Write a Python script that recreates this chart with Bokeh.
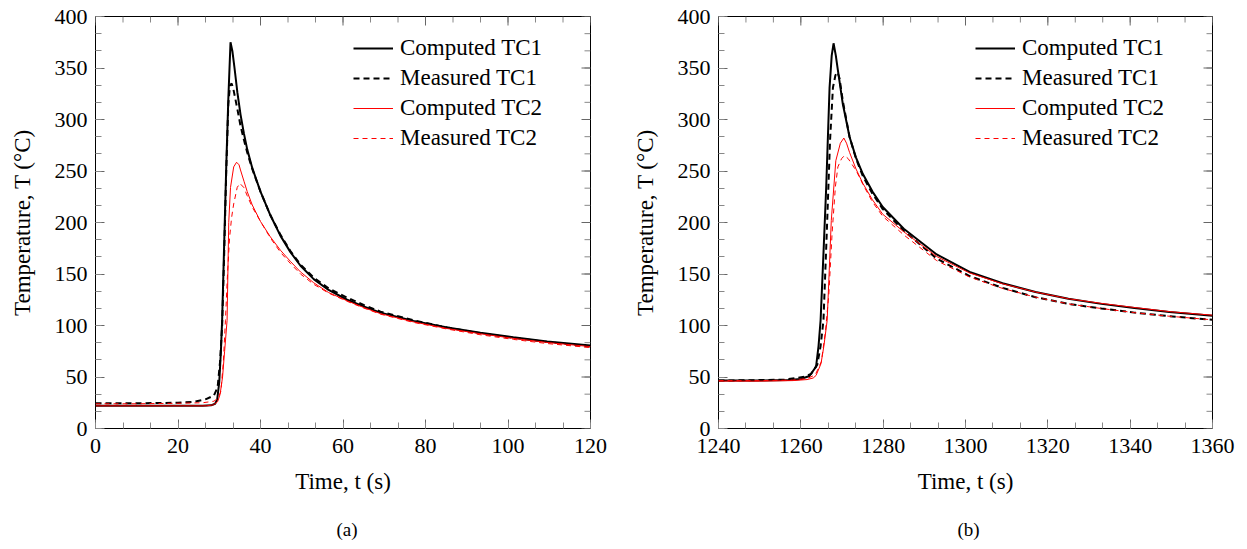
import math
import numpy as np
from bokeh.plotting import figure
from bokeh.models import Range1d, SingleIntervalTicker, Title
from bokeh.layouts import row
from bokeh.embed import file_html
from bokeh.resources import INLINE

FONT = "Liberation Serif"

# ---------------- panel (a) ----------------
a_comp1_t = [0, 10, 20, 26, 28, 29, 29.5, 30, 30.4, 30.7, 31.2, 31.7, 32.2, 32.73, 33.2, 33.7, 34.4, 35.15,
             36.0, 36.78, 38.0, 40.0, 42.4, 44.85, 47.3, 49.7, 52.9, 56.5, 61.0, 65, 69.1, 77.1, 85.3, 93.3,
             101.3, 109.5, 120]
a_comp1_T = [22, 22, 22, 22, 22.5, 24, 28, 45, 75, 105, 180, 255, 320, 375, 366, 350, 326, 305,
             286, 271, 253, 230, 207, 187, 171, 158, 145, 134.5, 125, 118.5, 112.5, 104.5, 98, 93,
             88.5, 84.5, 80.5]

a_meas1_t = [0, 10, 20, 24, 26.8, 28.7, 29.6, 30.2, 30.7, 31.2, 31.7, 32.2, 32.6, 33.0, 33.4, 33.9, 34.4,
             35.15, 36.0, 36.78, 38.0, 40.0, 42.4, 44.85, 47.3, 49.7, 52.9, 56.5, 61, 65, 69.1, 77.1, 85.3,
             93.3, 101.3, 109.5, 120]
a_meas1_T = [24.5, 24.5, 25, 26, 28.5, 32, 40, 65, 100, 170, 250, 315, 333, 335, 330, 320, 310,
             294, 280, 268, 252, 230, 207, 188, 172, 159, 146.5, 136, 127, 120, 113.5, 105, 98,
             92.5, 88, 84, 79.5]

a_comp2_t = [0, 10, 20, 27, 28.6, 29.6, 30.2, 30.8, 31.3, 31.9, 32.3, 32.73, 33.5, 34.2, 34.8, 35.15, 36.0,
             36.78, 38.0, 40.0, 42.4, 44.85, 47.3, 49.7, 52.9, 56.5, 61, 65, 69.1, 77.1, 85.3, 93.3, 101.3,
             109.5, 120]
a_comp2_T = [22, 22, 22, 22, 23, 26, 33, 50, 75, 105, 200, 234, 254, 258.5, 256, 251, 240,
             230, 217, 201, 186, 173, 162, 152, 141.5, 132, 124, 117.5, 111.5, 103.5, 97, 92, 87.5,
             83.5, 79.5]

a_meas2_t = [0, 10, 20, 26, 28.7, 29.6, 30.4, 31.0, 31.5, 32.0, 32.5, 33.0, 33.5, 34.35, 35.0, 35.95, 36.78,
             38.0, 40.0, 42.4, 44.85, 47.3, 49.7, 52.9, 56.5, 61, 65, 69.1, 77.1, 85.3, 93.3, 101.3, 109.5, 120]
a_meas2_T = [24, 24, 24.5, 25, 26.5, 29, 36, 65, 105, 150, 185, 205, 218, 234, 238, 234, 226,
             215, 201, 185, 171, 160, 150, 140, 131.5, 123.5, 117, 111, 103, 96.5, 91, 86.5, 82.5, 78.5]

# ---------------- panel (b) ----------------
b_comp1_t = [1240, 1250, 1257, 1260, 1262.1, 1263.7, 1264.3, 1264.8, 1265.5, 1266.16, 1266.98, 1267.5, 1267.95,
             1268.5, 1269.0, 1270.2, 1271.84, 1273.4, 1275.07, 1277.4, 1279.9, 1285, 1293, 1301, 1309,
             1317, 1325, 1333, 1341, 1349.5, 1360]
b_comp1_T = [46.5, 46.5, 47, 48, 51, 60, 80, 105, 170, 234, 331, 362, 374,
             362, 348, 315, 283, 263, 247, 230, 215, 194, 169, 152, 141,
             132.5, 126, 121, 117, 113, 109.5]

b_meas1_t = [1240, 1250, 1256, 1259, 1261, 1262.5, 1264, 1264.8, 1265.5, 1266.3, 1267.1, 1267.8, 1268.4, 1268.9,
             1269.4, 1270.2, 1271.84, 1273.4, 1275.07, 1277.4, 1279.9, 1285, 1293, 1301, 1309,
             1317, 1325, 1333, 1341, 1349.5, 1360]
b_meas1_T = [46.5, 47, 47.5, 49, 50.5, 53, 62, 80, 105, 190, 280, 331, 343, 346,
             340, 318, 283, 262, 245, 228, 213, 192, 165, 148, 136.5,
             127.5, 121, 116.5, 112.5, 109, 105.5]

b_comp2_t = [1240, 1250, 1258, 1261.5, 1263, 1263.7, 1264.9, 1265.6, 1266.4, 1267.4, 1268.5, 1269.6, 1270.45,
             1271.1, 1271.84, 1273.4, 1275.07, 1277.4, 1279.9, 1285, 1293, 1301, 1309,
             1317, 1325, 1333, 1341, 1349.5, 1360]
b_comp2_T = [46, 46, 46.5, 47.5, 49, 51.5, 63, 80, 105, 202, 260, 277, 282,
             277, 268, 252, 238, 222, 208, 191, 167, 151, 140.5,
             132.5, 126, 121.5, 117.5, 113.5, 110]

b_meas2_t = [1240, 1250, 1258, 1261.5, 1263.5, 1265, 1266, 1266.8, 1267.6, 1268.4, 1269.0, 1269.9, 1270.6,
             1271.5, 1273.5, 1275.07, 1277.4, 1279.9, 1285, 1293, 1301, 1309,
             1317, 1325, 1333, 1341, 1349.5, 1360]
b_meas2_T = [46.5, 46.5, 47, 48.5, 52, 65, 95, 130, 190, 235, 254, 262, 265,
             262, 250, 237, 220, 206, 188, 163, 147, 136,
             127.5, 121, 116.5, 112.5, 109, 105.5]

labels = ["Computed TC1", "Measured TC1", "Computed TC2", "Measured TC2"]
x_label = "Time, t (s)"
y_label = "Temperature, T (°C)"
y_lim = (0, 400)
x_major, y_major = 20, 50
minor_div = 3

MAJ_LEN, MIN_LEN = 9, 6
MAJ_COL, MIN_COL = "#666666", "#888888"


def style_axis(ax):
    ax.axis_line_color = None
    ax.major_tick_in = MAJ_LEN
    ax.major_tick_out = 0
    ax.minor_tick_in = MIN_LEN
    ax.minor_tick_out = 0
    ax.major_tick_line_color = MAJ_COL
    ax.minor_tick_line_color = MIN_COL
    ax.major_tick_line_width = 1
    ax.minor_tick_line_width = 1
    ax.major_label_text_font = FONT
    ax.major_label_text_font_size = "22px"
    ax.major_label_text_color = "black"
    ax.axis_label_text_font = FONT
    ax.axis_label_text_font_size = "23px"
    ax.axis_label_text_font_style = "normal"
    ax.axis_label_text_color = "black"


def mirror_ticks(p, xr):
    # ticks on the top and right frame edges (mirrored from the axes)
    xmaj = np.arange(xr[0], xr[1] + 1e-9, x_major)
    xmin = np.arange(xr[0], xr[1] + 1e-9, x_major / minor_div)
    ymaj = np.arange(y_lim[0], y_lim[1] + 1e-9, y_major)
    ymin = np.arange(y_lim[0], y_lim[1] + 1e-9, y_major / minor_div)
    p.ray(x=list(xmin), y=[y_lim[1]] * len(xmin), length=MIN_LEN, length_units="screen",
          angle=-math.pi / 2, line_color=MIN_COL, line_width=1)
    p.ray(x=list(xmaj), y=[y_lim[1]] * len(xmaj), length=MAJ_LEN, length_units="screen",
          angle=-math.pi / 2, line_color=MAJ_COL, line_width=1)
    p.ray(x=[xr[1]] * len(ymin), y=list(ymin), length=MIN_LEN, length_units="screen",
          angle=math.pi, line_color=MIN_COL, line_width=1)
    p.ray(x=[xr[1]] * len(ymaj), y=list(ymaj), length=MAJ_LEN, length_units="screen",
          angle=math.pi, line_color=MAJ_COL, line_width=1)


def make_panel(xr, series, fw, left, right, caption, cap_off, leg_x):
    p = figure(frame_width=fw, frame_height=412, x_range=Range1d(*xr), y_range=Range1d(*y_lim),
               output_backend="svg", toolbar_location=None,
               min_border_left=left, min_border_right=right, min_border_top=16, min_border_bottom=100)
    p.xgrid.visible = False
    p.ygrid.visible = False
    p.outline_line_color = "black"
    p.outline_line_width = 1
    p.background_fill_color = "white"
    p.border_fill_color = "white"

    p.xaxis.ticker = SingleIntervalTicker(interval=x_major, num_minor_ticks=minor_div)
    p.yaxis.ticker = SingleIntervalTicker(interval=y_major, num_minor_ticks=minor_div)
    for ax in p.xaxis:
        style_axis(ax)
        ax.major_label_standoff = 10
        ax.axis_label = x_label
        ax.axis_label_standoff = 13
    for ax in p.yaxis:
        style_axis(ax)
        ax.major_label_standoff = 8
        ax.axis_label = y_label
        ax.axis_label_standoff = 17

    mirror_ticks(p, xr)

    (t1, T1), (t2, T2), (t3, T3), (t4, T4) = series
    p.line(t1, T1, line_color="black", line_width=2, legend_label=labels[0])
    p.line(t2, T2, line_color="black", line_width=2, line_dash="6 4", legend_label=labels[1])
    p.line(t3, T3, line_color="red", line_width=1, legend_label=labels[2])
    p.line(t4, T4, line_color="red", line_width=1, line_dash="5 4", legend_label=labels[3])

    lg = p.legend[0]
    lg.location = (leg_x, 277)
    lg.border_line_color = None
    lg.background_fill_alpha = 0
    lg.padding = 0
    lg.margin = 0
    lg.spacing = 4
    lg.glyph_width = 40
    lg.glyph_height = 26
    lg.label_height = 26
    lg.label_standoff = 7
    lg.label_text_font = FONT
    lg.label_text_font_size = "23px"
    lg.label_text_color = "black"

    cap = Title(text=caption, align="left", offset=cap_off, standoff=40, text_font=FONT,
                text_font_size="19px", text_font_style="normal", text_color="black")
    p.add_layout(cap, "below")
    return p


p1 = make_panel((0, 120), [(a_comp1_t, a_comp1_T), (a_meas1_t, a_meas1_T),
                           (a_comp2_t, a_comp2_T), (a_meas2_t, a_meas2_T)],
                495, 95, 39, "(a)", 241, 258)
p2 = make_panel((1240, 1360), [(b_comp1_t, b_comp1_T), (b_meas1_t, b_meas1_T),
                               (b_comp2_t, b_comp2_T), (b_meas2_t, b_meas2_T)],
                494, 87, 29, "(b)", 239, 257)

layout = row(p1, p2)
open("out.html", "w").write(file_html(layout, INLINE))
